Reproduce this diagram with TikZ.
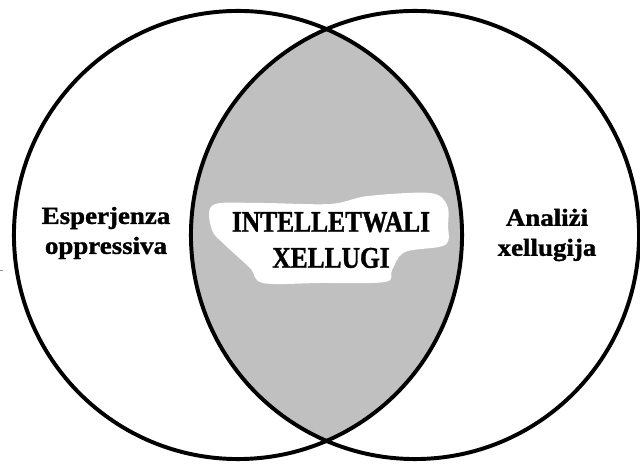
\documentclass[tikz,border=0pt]{standalone}
\usepackage{fontspec}
\setmainfont{Liberation Serif}[BoldFeatures={FakeBold=1.3}]

\begin{document}
\begin{tikzpicture}[x=0.025cm,y=-0.025cm]
    \definecolor{lens_gray}{HTML}{c0c0c0}
    \definecolor{mark_gray}{HTML}{8a8a8a}
    %\draw[help lines] (0,0) grid[step=40] (640,464);
    \useasboundingbox (0,0) rectangle (640,464);
    \coordinate (left) at (238,235);
    \coordinate (right) at (415,235);

    \begin{scope}
        \clip (left) circle (5.6cm);
        \path[fill=lens_gray] (right) circle (5.6cm);
    \end{scope}
    \path[fill=white] plot[smooth cycle, tension=0.55] coordinates {
        (213,205) (260,203) (330,204) (368,196) (430,193) (447,205)
        (448,225) (445,245) (405,252) (392,270) (385,282) (320,283)
        (263,283) (250,268) (225,245) (212,230)};
    \draw[line width=2.8pt] (left) circle (5.6cm);
    \draw[line width=2.8pt] (right) circle (5.6cm);
    \draw[mark_gray, line width=0.7pt] (0.5,270) -- (3,270);

    \node[align=center, xscale=1.1, transform shape, font=\bfseries\fontsize{17.4}{21.3}\selectfont] (experience) at (106,233) {Esperjenza\\oppressiva};
    \node[align=center, xscale=1.1, transform shape, font=\bfseries\fontsize{17.4}{21.3}\selectfont] (analysis) at (547,235) {Analiżi\\xellugija};
    \node[align=center, xscale=0.85, transform shape, font=\bfseries\fontsize{21.3}{25.6}\selectfont] (intellectuals) at (331,240) {INTELLETWALI\\XELLUGI};
\end{tikzpicture}
\end{document}
